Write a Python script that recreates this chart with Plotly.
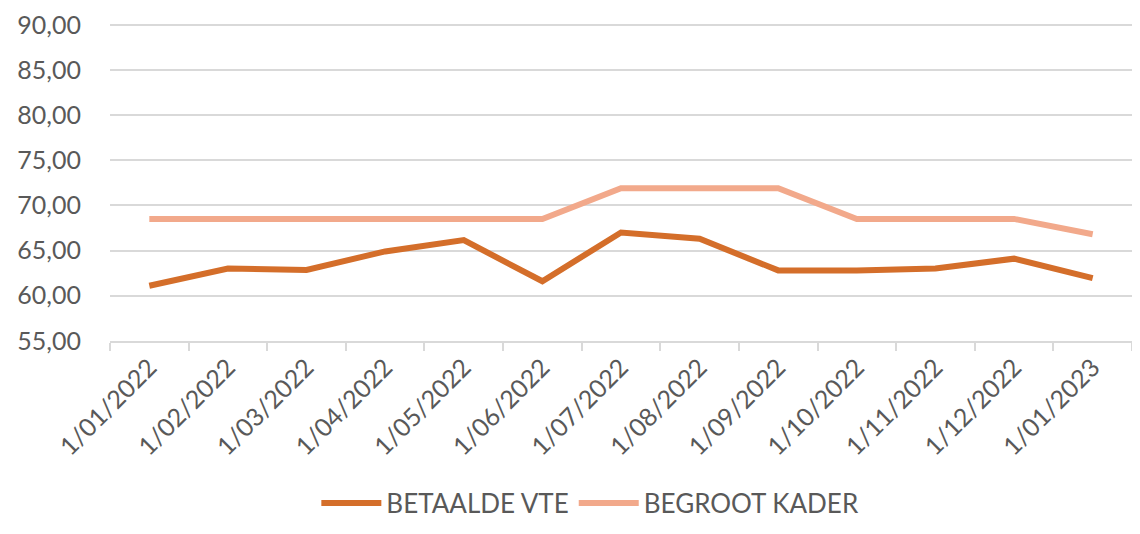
import plotly.graph_objects as go

maanden = ["1/01/2022", "1/02/2022", "1/03/2022", "1/04/2022", "1/05/2022", "1/06/2022",
           "1/07/2022", "1/08/2022", "1/09/2022", "1/10/2022", "1/11/2022", "1/12/2022",
           "1/01/2023"]
betaalde_vte = [61.1, 63.0, 62.85, 64.9, 66.15, 61.6, 67.0, 66.3, 62.8, 62.8, 63.0, 64.1, 61.95]
begroot_kader = [68.5, 68.5, 68.5, 68.5, 68.5, 68.5, 71.9, 71.9, 71.9, 68.5, 68.5, 68.5, 66.8]

fig = go.Figure()
fig.add_trace(go.Scatter(x=maanden, y=betaalde_vte, mode="lines", name="BETAALDE VTE",
                         line=dict(color="#D46E2A", width=6)))
fig.add_trace(go.Scatter(x=maanden, y=begroot_kader, mode="lines", name="BEGROOT KADER",
                         line=dict(color="#F2A98B", width=6)))

# page has an 8px body margin, so the figure is sized a bit smaller than the window
fig.update_layout(
    width=1124, height=518,
    margin=dict(l=102, r=0, t=15, b=185, autoexpand=False),
    plot_bgcolor="white", paper_bgcolor="white",
    separators=",.",
    font=dict(family="Lato, Open Sans, sans-serif", color="#595959", size=24),
    showlegend=True,
    legend=dict(orientation="h", x=0.47, xanchor="center", y=-0.51, yanchor="middle",
                font=dict(size=26), itemwidth=60),
    xaxis=dict(type="category", tickangle=-45, tickson="boundaries", ticks="outside",
               ticklen=8, tickcolor="#D9D9D9", tickwidth=2, showgrid=False,
               showline=True, linecolor="#D9D9D9", linewidth=2, automargin=False,
               tickfont=dict(size=25), range=[-0.5, 12.5]),
    yaxis=dict(range=[54.98, 90.2], dtick=5, tickformat=".2f", showgrid=True,
               gridcolor="#D9D9D9", gridwidth=2, zeroline=False, ticks="",
               automargin=False, ticklabelstandoff=28, tickfont=dict(size=25)),
)

fig.write_html("out.html")
